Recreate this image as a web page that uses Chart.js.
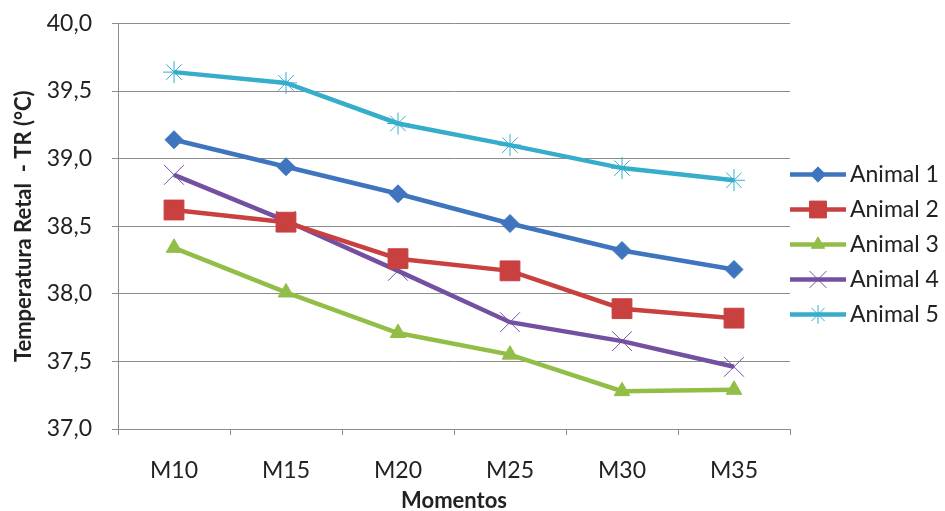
<!DOCTYPE html>
<html>
<head>
<meta charset="utf-8">
<script src="https://cdn.jsdelivr.net/npm/chart.js@4.4.1/dist/chart.umd.min.js"></script>
<style>
html,body{margin:0;padding:0;background:#fff;}
#wrap{width:945px;height:511px;position:relative;}
</style>
</head>
<body>
<div id="wrap"><canvas id="c" width="945" height="511"></canvas></div>
<script>
const categories = ["M10", "M15", "M20", "M25", "M30", "M35"];
const seriesNames = ["Animal 1", "Animal 2", "Animal 3", "Animal 4", "Animal 5"];
const animal1 = [39.14, 38.94, 38.74, 38.52, 38.32, 38.18];
const animal2 = [38.62, 38.53, 38.26, 38.17, 37.89, 37.82];
const animal3 = [38.34, 38.01, 37.71, 37.55, 37.28, 37.29];
const animal4 = [38.88, 38.54, 38.17, 37.79, 37.65, 37.46];
const animal5 = [39.64, 39.56, 39.26, 39.10, 38.93, 38.84];
const yTicks = [37.0, 37.5, 38.0, 38.5, 39.0, 39.5, 40.0];
const yTitle = "Temperatura Retal  - TR (°C)";
const xTitle = "Momentos";

const FONT = "Lato, 'Open Sans', sans-serif";
const styles = [
  {line:"#3E75BE", fill:"#3E75BE", pt:"rectRot", r:9, bw:1},
  {line:"#C8403F", fill:"#C8403F", pt:"rect", r:14, bw:1},
  {line:"#92BE48", fill:"#92BE48", pt:"triangle", r:9, bw:1},
  {line:"#7450A0", fill:"#7450A0", pt:"crossRot", r:14, bw:1},
  {line:"#35ADCB", fill:"#35ADCB", pt:"star", r:11, bw:1}
];
const allData = [animal1, animal2, animal3, animal4, animal5];

const datasets = allData.map((d, i) => ({
  label: seriesNames[i],
  data: d,
  borderColor: styles[i].line,
  backgroundColor: styles[i].fill,
  borderWidth: 4.5,
  pointStyle: styles[i].pt,
  pointRadius: styles[i].r,
  pointBorderWidth: styles[i].bw,
  pointBorderColor: styles[i].fill,
  pointBackgroundColor: styles[i].fill,
  tension: 0,
  fill: false
}));

const legendPlugin = {
  id: 'customLegend',
  afterDraw(chart) {
    const ctx = chart.ctx;
    const x0 = chart.chartArea.right;
    const lineLen = 56;
    const gap = 35;
    const cy = chart.height / 2 - 11;
    ctx.save();
    chart.data.datasets.forEach((ds, i) => {
      const y = cy + (i - 2) * gap;
      ctx.strokeStyle = ds.borderColor;
      ctx.lineWidth = 4.5;
      ctx.beginPath();
      ctx.moveTo(x0, y);
      ctx.lineTo(x0 + lineLen, y);
      ctx.stroke();
      ctx.fillStyle = ds.pointBackgroundColor;
      ctx.strokeStyle = ds.pointBorderColor;
      ctx.lineWidth = ds.pointBorderWidth;
      Chart.helpers.drawPoint(ctx, {
        pointStyle: ds.pointStyle,
        radius: ds.pointRadius * 0.85,
        rotation: 0,
        borderWidth: ds.pointBorderWidth
      }, x0 + lineLen / 2, y);
      ctx.fillStyle = "#222";
      ctx.font = "23px " + FONT;
      ctx.textBaseline = "middle";
      ctx.textAlign = "left";
      ctx.fillText(ds.label, x0 + lineLen + 4, y);
    });
    ctx.restore();
  }
};

new Chart(document.getElementById('c'), {
  type: 'line',
  data: { labels: categories, datasets: datasets },
  plugins: [legendPlugin],
  options: {
    responsive: false,
    animation: false,
    layout: { padding: { left: 0, right: 155, top: 18, bottom: 0 } },
    plugins: { legend: { display: false }, tooltip: { enabled: false } },
    scales: {
      x: {
        offset: true,
        grid: { display: true, drawOnChartArea: false, drawTicks: true, tickLength: 6, color: "#8C8C8C", offset: true },
        border: { display: true, color: "#8C8C8C", width: 1 },
        ticks: { color: "#222", font: { family: FONT, size: 23 }, padding: 22 },
        title: { display: true, text: xTitle, color: "#222", font: { family: FONT, size: 22, weight: 'bold' }, padding: { top: 0, bottom: -3 } },
        afterFit(scale) { scale.height = 82; }
      },
      y: {
        min: 37, max: 40,
        afterBuildTicks(scale) { scale.ticks = yTicks.map(v => ({ value: v })); },
        grid: { color: "#8C8C8C", lineWidth: 1, tickLength: 6, drawTicks: true },
        border: { display: true, color: "#8C8C8C", width: 1 },
        ticks: {
          color: "#222", font: { family: FONT, size: 23, lineHeight: 0.3 }, padding: 20,
          callback: (v) => Number(v).toFixed(1).replace('.', ',')
        },
        title: { display: true, text: yTitle, color: "#222", font: { family: FONT, size: 22, weight: 'bold' }, padding: { top: 11, bottom: 0 } },
        afterFit(scale) { scale.width = 118; }
      }
    }
  }
});
</script>
</body>
</html>
